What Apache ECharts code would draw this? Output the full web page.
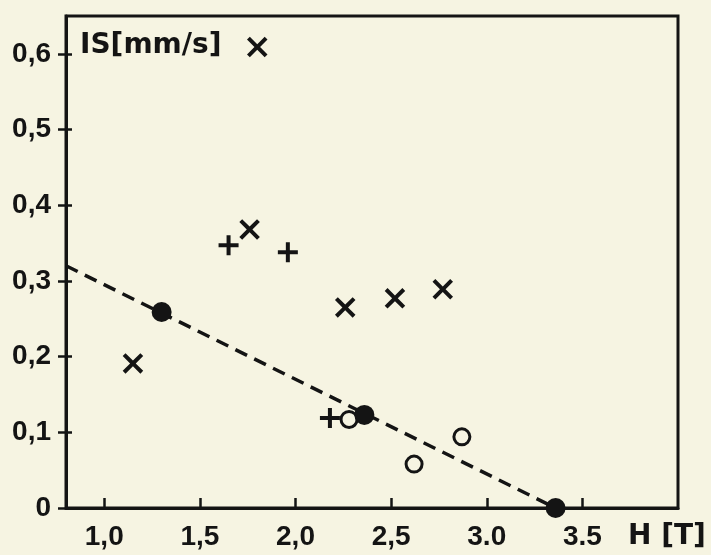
<!DOCTYPE html>
<html>
<head>
<meta charset="utf-8">
<script src="https://cdn.jsdelivr.net/npm/echarts@6/dist/echarts.min.js"></script>
<style>
  html, body { margin: 0; padding: 0; background: #f6f4e2; }
  #chart { width: 711px; height: 555px; }
</style>
</head>
<body>
<div id="chart"></div>
<script>
// H [T] vs IS [mm/s]
const crossPts = [[1.80, 0.609], [1.76, 0.368], [1.15, 0.191], [2.26, 0.265], [2.52, 0.277], [2.77, 0.289]];
const plusPts = [[1.65, 0.347], [1.96, 0.338], [2.18, 0.119]];
const openPts = [[2.28, 0.117], [2.62, 0.058], [2.87, 0.094]];
const filledPts = [[1.30, 0.259], [2.36, 0.123], [3.36, 0.0]];
const fitLine = [[0.8, 0.32], [3.36, 0.0]];

const xTickValues = [1.0, 1.5, 2.0, 2.5, 3.0, 3.5];
const xTickLabels = ['1,0', '1,5', '2,0', '2,5', '3.0', '3.5'];
const yTickValues = [0, 0.1, 0.2, 0.3, 0.4, 0.5, 0.6];
const yTickLabels = ['0', '0,1', '0,2', '0,3', '0,4', '0,5', '0,6'];

const ink = '#141414';
const font = 'Liberation Sans';

// plus as a filled outline; the x marks use a thinner one, rotated
const plusPath = 'path://M4,0h2v4h4v2h-4v4h-2v-4h-4v-2h4z';
const crossPath = 'path://M4.2,0h1.6v4.2h4.2v1.6h-4.2v4.2h-1.6v-4.2h-4.2v-1.6h4.2z';

function pickLabel(values, labels) {
  return function (v) {
    for (let i = 0; i < values.length; i++) {
      if (Math.abs(values[i] - v) < 1e-6) return labels[i];
    }
    return '';
  };
}

const chart = echarts.init(document.getElementById('chart'));

const option = {
  backgroundColor: '#f6f4e2',
  animation: false,
  grid: {
    left: 66, right: 33, top: 16, bottom: 47,
    show: true, borderColor: ink, borderWidth: 3, backgroundColor: 'transparent'
  },
  xAxis: {
    type: 'value', min: 0.8, max: 4.0,
    axisLine: { show: true, onZero: false, lineStyle: { color: ink, width: 3 } },
    axisTick: { show: true, inside: true, length: 10, lineStyle: { color: ink, width: 2.5 }, customValues: xTickValues },
    axisLabel: {
      customValues: xTickValues, formatter: pickLabel(xTickValues, xTickLabels),
      color: ink, fontFamily: font, fontWeight: 'bold', fontSize: 28, margin: 15
    },
    splitLine: { show: false }
  },
  yAxis: [
    {
      type: 'value', min: 0, max: 0.65,
      axisLine: { show: true, lineStyle: { color: ink, width: 3 } },
      axisTick: { show: true, length: 8, lineStyle: { color: ink, width: 2.5 }, customValues: yTickValues },
      axisLabel: {
        customValues: yTickValues, formatter: pickLabel(yTickValues, yTickLabels),
        color: ink, fontFamily: font, fontWeight: 'bold', fontSize: 28, margin: 15
      },
      splitLine: { show: false }
    },
    {
      type: 'value', min: 0, max: 0.65, position: 'left',
      axisLine: { show: false },
      axisTick: { show: true, inside: true, length: 6, lineStyle: { color: ink, width: 2.5 }, customValues: yTickValues },
      axisLabel: { show: false },
      splitLine: { show: false }
    }
  ],
  graphic: [
    {
      type: 'text', left: 80, top: 32,
      style: { text: 'IS[mm/s]', fill: ink, font: 'bold 28px "DejaVu Sans"' }
    },
    {
      type: 'text', left: 628, top: 523,
      style: { text: 'H [T]', fill: ink, font: 'bold 28px "DejaVu Sans"' }
    }
  ],
  series: [
    {
      type: 'line', data: fitLine, symbol: 'none', z: 1,
      lineStyle: { color: ink, width: 3.5, type: [13, 8] }
    },
    {
      type: 'scatter', data: crossPts, symbol: crossPath, symbolSize: 25, symbolRotate: 45, z: 3,
      itemStyle: { color: ink, opacity: 1 }
    },
    {
      type: 'scatter', data: plusPts, symbol: plusPath, symbolSize: 20, z: 3,
      itemStyle: { color: ink, opacity: 1 }
    },
    {
      type: 'scatter', data: openPts, symbol: 'circle', symbolSize: 16, z: 3,
      itemStyle: { color: 'transparent', borderColor: ink, borderWidth: 3, opacity: 1 }
    },
    {
      type: 'scatter', data: filledPts, symbol: 'circle', symbolSize: 20, z: 4,
      itemStyle: { color: ink, opacity: 1 }
    }
  ]
};

chart.setOption(option);
</script>
</body>
</html>
